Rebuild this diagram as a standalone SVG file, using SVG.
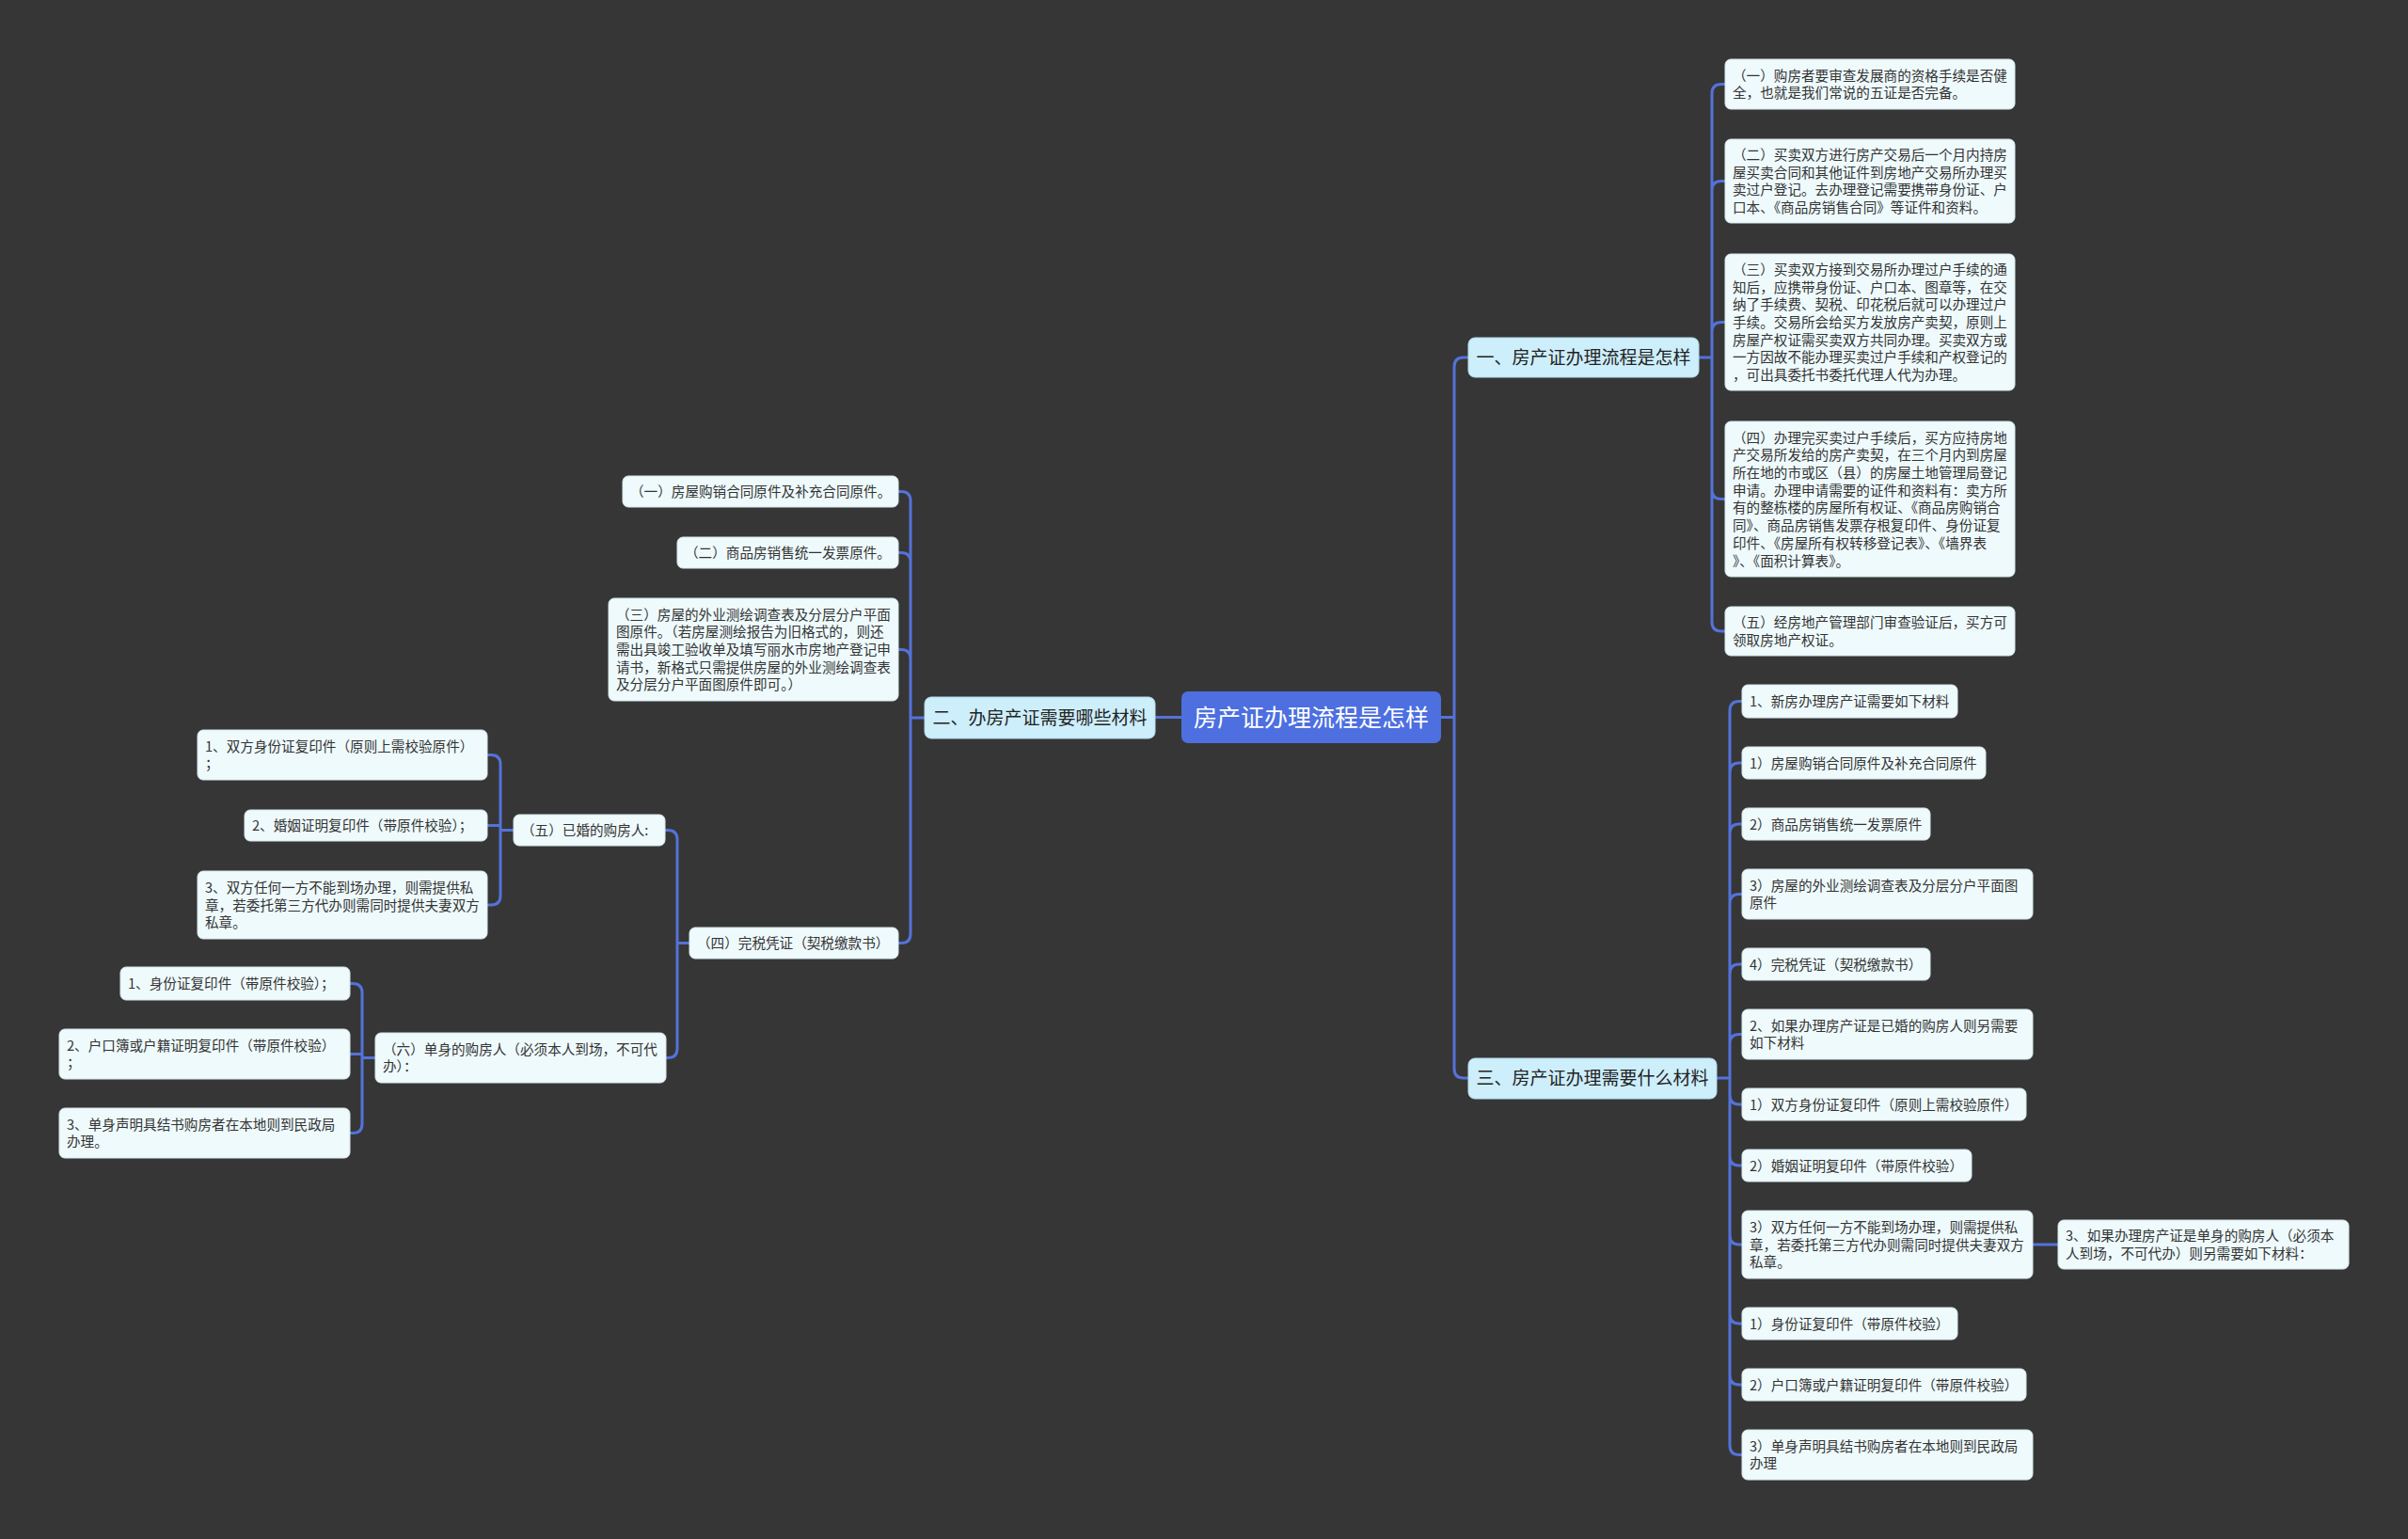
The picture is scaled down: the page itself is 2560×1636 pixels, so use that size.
<svg xmlns="http://www.w3.org/2000/svg" width="2560" height="1636" viewBox="0 0 2560 1636">
<style>
.bg{fill:#363636}
.ln{fill:none;stroke:#5472d9;stroke-width:3;stroke-linecap:round;stroke-linejoin:round}
.leaf rect{fill:#eefafc;stroke:#d8e8ec;stroke-width:1}
.leaf text{font-family:"Noto Sans CJK SC","Microsoft YaHei",sans-serif;font-size:14.6px;fill:#333333}
.br rect{fill:#cdeefb;stroke:#b5dcec;stroke-width:1}
.br text{font-family:"Noto Sans CJK SC",sans-serif;font-size:19px;fill:#222222;text-anchor:middle}
.root rect{fill:#4d6fe0}
.root text{font-family:"Noto Sans CJK SC",sans-serif;font-size:25px;fill:#ffffff;text-anchor:middle}
</style>
<rect class="bg" x="0" y="0" width="2560" height="1636"/>

<g id="connectors">
<path class="ln" d="M1532 762.5 H1546 M1546 762.5 V390 Q1546 380 1556 380 H1561 M1546 762.5 V1136 Q1546 1146 1556 1146 H1561"/>
<path class="ln" d="M1256 762.5 H1228"/>
<path class="ln" d="M1806 380 H1820 M1820 380 V99.5 Q1820 89.5 1830 89.5 H1834 M1820 380 V202.5 Q1820 192.5 1830 192.5 H1834 M1820 380 V352.5 Q1820 342.5 1830 342.5 H1834 M1820 380 V520.5 Q1820 530.5 1830 530.5 H1834 M1820 380 V661 Q1820 671 1830 671 H1834"/>
<path class="ln" d="M1825 1146 H1839 M1839 1146 V755.5 Q1839 745.5 1849 745.5 H1852 M1839 1146 V821 Q1839 811 1849 811 H1852 M1839 1146 V886 Q1839 876 1849 876 H1852 M1839 1146 V960.5 Q1839 950.5 1849 950.5 H1852 M1839 1146 V1035 Q1839 1025 1849 1025 H1852 M1839 1146 V1109.5 Q1839 1099.5 1849 1099.5 H1852 M1839 1146 V1164 Q1839 1174 1849 1174 H1852 M1839 1146 V1229 Q1839 1239 1849 1239 H1852 M1839 1146 V1313 Q1839 1323 1849 1323 H1852 M1839 1146 V1397 Q1839 1407 1849 1407 H1852 M1839 1146 V1462 Q1839 1472 1849 1472 H1852 M1839 1146 V1536.5 Q1839 1546.5 1849 1546.5 H1852"/>
<path class="ln" d="M2161 1323 H2188"/>
<path class="ln" d="M983 763 H968 M968 763 V532.5 Q968 522.5 958 522.5 H955 M968 763 V597.5 Q968 587.5 958 587.5 H955 M968 763 V700.5 Q968 690.5 958 690.5 H955 M968 763 V992.5 Q968 1002.5 958 1002.5 H955"/>
<path class="ln" d="M733 1002.5 H720 M720 1002.5 V892.5 Q720 882.5 710 882.5 H707 M720 1002.5 V1114.5 Q720 1124.5 710 1124.5 H708"/>
<path class="ln" d="M546 882.5 H532 M532 882.5 V812.5 Q532 802.5 522 802.5 H518 M532 882.5 V877.5 H518 M532 882.5 V952 Q532 962 522 962 H518"/>
<path class="ln" d="M399 1124.5 H385 M385 1124.5 V1055.5 Q385 1045.5 375 1045.5 H372 M385 1124.5 V1120.5 H372 M385 1124.5 V1194.5 Q385 1204.5 375 1204.5 H372"/>
</g>

<g id="root" class="root"><rect x="1256" y="735" width="276" height="55" rx="7"/><text x="1394" y="772">房产证办理流程是怎样</text></g>

<g id="b1" class="br"><rect x="1561" y="359" width="245" height="42" rx="7"/><text x="1683.5" y="387">一、房产证办理流程是怎样</text></g>
<g id="b2" class="br"><rect x="983" y="741" width="245" height="44" rx="7"/><text x="1105.5" y="770">二、办房产证需要哪些材料</text></g>
<g id="b3" class="br"><rect x="1561" y="1125" width="264" height="43" rx="7"/><text x="1693" y="1153">三、房产证办理需要什么材料</text></g>

<g id="l1a" class="leaf"><rect x="1834" y="63" width="308" height="53" rx="6"/><text x="1842" y="85.7"><tspan x="1842">（一）购房者要审查发展商的资格手续是否健</tspan><tspan x="1842" dy="18.7">全，也就是我们常说的五证是否完备。</tspan></text></g>
<g id="l1b" class="leaf"><rect x="1834" y="148" width="308" height="89" rx="6"/><text x="1842" y="170"><tspan x="1842">（二）买卖双方进行房产交易后一个月内持房</tspan><tspan x="1842" dy="18.7">屋买卖合同和其他证件到房地产交易所办理买</tspan><tspan x="1842" dy="18.7">卖过户登记。去办理登记需要携带身份证、户</tspan><tspan x="1842" dy="18.7">口本、《商品房销售合同》等证件和资料。</tspan></text></g>
<g id="l1c" class="leaf"><rect x="1834" y="270" width="308" height="145" rx="6"/><text x="1842" y="291.9"><tspan x="1842">（三）买卖双方接到交易所办理过户手续的通</tspan><tspan x="1842" dy="18.7">知后，应携带身份证、户口本、图章等，在交</tspan><tspan x="1842" dy="18.7">纳了手续费、契税、印花税后就可以办理过户</tspan><tspan x="1842" dy="18.7">手续。交易所会给买方发放房产卖契，原则上</tspan><tspan x="1842" dy="18.7">房屋产权证需买卖双方共同办理。买卖双方或</tspan><tspan x="1842" dy="18.7">一方因故不能办理买卖过户手续和产权登记的</tspan><tspan x="1842" dy="18.7">，可出具委托书委托代理人代为办理。</tspan></text></g>
<g id="l1d" class="leaf"><rect x="1834" y="448" width="308" height="165" rx="6"/><text x="1842" y="470.6"><tspan x="1842">（四）办理完买卖过户手续后，买方应持房地</tspan><tspan x="1842" dy="18.7">产交易所发给的房产卖契，在三个月内到房屋</tspan><tspan x="1842" dy="18.7">所在地的市或区（县）的房屋土地管理局登记</tspan><tspan x="1842" dy="18.7">申请。办理申请需要的证件和资料有：卖方所</tspan><tspan x="1842" dy="18.7">有的整栋楼的房屋所有权证、《商品房购销合</tspan><tspan x="1842" dy="18.7">同》、商品房销售发票存根复印件、身份证复</tspan><tspan x="1842" dy="18.7">印件、《房屋所有权转移登记表》、《墙界表</tspan><tspan x="1842" dy="18.7">》、《面积计算表》。</tspan></text></g>
<g id="l1e" class="leaf"><rect x="1834" y="645" width="308" height="52" rx="6"/><text x="1842" y="667.2"><tspan x="1842">（五）经房地产管理部门审查验证后，买方可</tspan><tspan x="1842" dy="18.7">领取房地产权证。</tspan></text></g>

<g id="r1" class="leaf"><rect x="1852" y="728" width="229" height="35" rx="6"/><text x="1860" y="751">1、新房办理房产证需要如下材料</text></g>
<g id="r2" class="leaf"><rect x="1852" y="794" width="259" height="34" rx="6"/><text x="1860" y="816.5">1）房屋购销合同原件及补充合同原件</text></g>
<g id="r3" class="leaf"><rect x="1852" y="859" width="200" height="34" rx="6"/><text x="1860" y="881.5">2）商品房销售统一发票原件</text></g>
<g id="r4" class="leaf"><rect x="1852" y="924" width="309" height="53" rx="6"/><text x="1860" y="946.7"><tspan x="1860">3）房屋的外业测绘调查表及分层分户平面图</tspan><tspan x="1860" dy="18.7">原件</tspan></text></g>
<g id="r5" class="leaf"><rect x="1852" y="1008" width="200" height="34" rx="6"/><text x="1860" y="1030.5">4）完税凭证（契税缴款书）</text></g>
<g id="r6" class="leaf"><rect x="1852" y="1073" width="309" height="53" rx="6"/><text x="1860" y="1095.7"><tspan x="1860">2、如果办理房产证是已婚的购房人则另需要</tspan><tspan x="1860" dy="18.7">如下材料</tspan></text></g>
<g id="r7" class="leaf"><rect x="1852" y="1157" width="302" height="34" rx="6"/><text x="1860" y="1179.5">1）双方身份证复印件（原则上需校验原件）</text></g>
<g id="r8" class="leaf"><rect x="1852" y="1222" width="244" height="34" rx="6"/><text x="1860" y="1244.5">2）婚姻证明复印件（带原件校验）</text></g>
<g id="r9" class="leaf"><rect x="1852" y="1287" width="309" height="72" rx="6"/><text x="1860" y="1309.8"><tspan x="1860">3）双方任何一方不能到场办理，则需提供私</tspan><tspan x="1860" dy="18.7">章，若委托第三方代办则需同时提供夫妻双方</tspan><tspan x="1860" dy="18.7">私章。</tspan></text></g>
<g id="r9c" class="leaf"><rect x="2188" y="1297" width="309" height="52" rx="6"/><text x="2196" y="1319.2"><tspan x="2196">3、如果办理房产证是单身的购房人（必须本</tspan><tspan x="2196" dy="18.7">人到场，不可代办）则另需要如下材料：</tspan></text></g>
<g id="r10" class="leaf"><rect x="1852" y="1390" width="229" height="34" rx="6"/><text x="1860" y="1412.5">1）身份证复印件（带原件校验）</text></g>
<g id="r11" class="leaf"><rect x="1852" y="1455" width="302" height="34" rx="6"/><text x="1860" y="1477.5">2）户口簿或户籍证明复印件（带原件校验）</text></g>
<g id="r12" class="leaf"><rect x="1852" y="1520" width="309" height="53" rx="6"/><text x="1860" y="1542.7"><tspan x="1860">3）单身声明具结书购房者在本地则到民政局</tspan><tspan x="1860" dy="18.7">办理</tspan></text></g>

<g id="la" class="leaf"><rect x="662" y="506" width="293" height="33" rx="6"/><text x="670" y="528">（一）房屋购销合同原件及补充合同原件。</text></g>
<g id="lb" class="leaf"><rect x="720" y="571" width="235" height="33" rx="6"/><text x="728" y="593">（二）商品房销售统一发票原件。</text></g>
<g id="lc" class="leaf"><rect x="647" y="636" width="308" height="109" rx="6"/><text x="655" y="658.6"><tspan x="655">（三）房屋的外业测绘调查表及分层分户平面</tspan><tspan x="655" dy="18.7">图原件。（若房屋测绘报告为旧格式的，则还</tspan><tspan x="655" dy="18.7">需出具竣工验收单及填写丽水市房地产登记申</tspan><tspan x="655" dy="18.7">请书，新格式只需提供房屋的外业测绘调查表</tspan><tspan x="655" dy="18.7">及分层分户平面图原件即可。）</tspan></text></g>
<g id="ld" class="leaf"><rect x="733" y="986" width="222" height="33" rx="6"/><text x="741" y="1008">（四）完税凭证（契税缴款书）</text></g>
<g id="l5" class="leaf"><rect x="546" y="866" width="161" height="33" rx="6"/><text x="554" y="888">（五）已婚的购房人:</text></g>
<g id="le1" class="leaf"><rect x="210" y="776" width="308" height="53" rx="6"/><text x="218" y="798.7"><tspan x="218">1、双方身份证复印件（原则上需校验原件）</tspan><tspan x="218" dy="18.7">；</tspan></text></g>
<g id="le2" class="leaf"><rect x="260" y="861" width="258" height="33" rx="6"/><text x="268" y="883">2、婚姻证明复印件（带原件校验）；</text></g>
<g id="le3" class="leaf"><rect x="210" y="926" width="308" height="72" rx="6"/><text x="218" y="948.8"><tspan x="218">3、双方任何一方不能到场办理，则需提供私</tspan><tspan x="218" dy="18.7">章，若委托第三方代办则需同时提供夫妻双方</tspan><tspan x="218" dy="18.7">私章。</tspan></text></g>
<g id="l6" class="leaf"><rect x="399" y="1098" width="309" height="53" rx="6"/><text x="407" y="1120.7"><tspan x="407">（六）单身的购房人（必须本人到场，不可代</tspan><tspan x="407" dy="18.7">办）：</tspan></text></g>
<g id="lf1" class="leaf"><rect x="128" y="1028" width="244" height="35" rx="6"/><text x="136" y="1051">1、身份证复印件（带原件校验）；</text></g>
<g id="lf2" class="leaf"><rect x="63" y="1094" width="309" height="53" rx="6"/><text x="71" y="1116.7"><tspan x="71">2、户口簿或户籍证明复印件（带原件校验）</tspan><tspan x="71" dy="18.7">；</tspan></text></g>
<g id="lf3" class="leaf"><rect x="63" y="1178" width="309" height="53" rx="6"/><text x="71" y="1200.7"><tspan x="71">3、单身声明具结书购房者在本地则到民政局</tspan><tspan x="71" dy="18.7">办理。</tspan></text></g>
</svg>
